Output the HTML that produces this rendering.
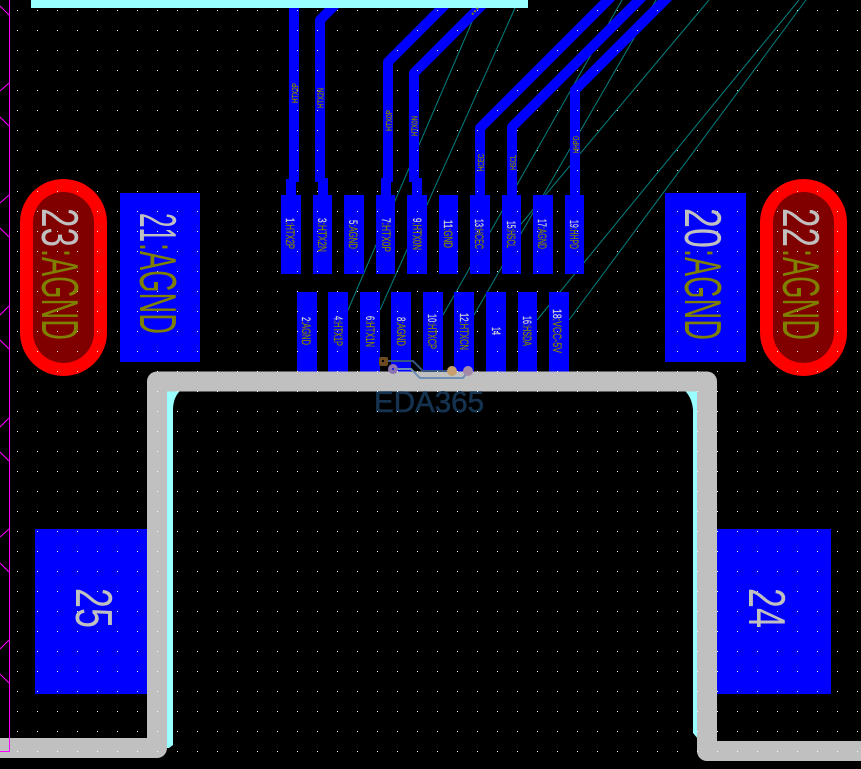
<!DOCTYPE html>
<html>
<head>
<meta charset="utf-8">
<style>
html,body{margin:0;padding:0;background:#000;width:861px;height:769px;overflow:hidden}
svg{display:block}
text{font-family:"Liberation Sans",sans-serif}
.p{font-size:12px;fill:#808000;stroke:#808000;stroke-width:.3}
.n{fill:#d0d0d0;stroke:#d0d0d0}
.t{font-size:8px;fill:#808000;stroke:#808000;stroke-width:.3}
.b{font-size:52px;fill:#808000}
.g{font-size:52px;fill:#c0c0c0}
</style>
</head>
<body>
<svg width="861" height="769" viewBox="0 0 861 769" xmlns="http://www.w3.org/2000/svg">
<rect width="861" height="769" fill="#000"/>

<!-- ratlines -->
<g stroke="#008080" stroke-width="1" fill="none">
<path d="M348 310L478 8"/>
<path d="M380 310L515 8"/>
<path d="M443 315L622 0"/>
<path d="M474 315L656 0"/>
<path d="M511 236L709 0"/>
<path d="M537 320L799 0"/>
<path d="M569 320L806 0"/>
</g>

<!-- tracks -->
<g stroke="#0000ff" stroke-width="10" fill="none" stroke-linejoin="round">
<path d="M294 0V182"/>
<path d="M345 -5L320 20V182"/>
<path d="M460 -10L388 62V182"/>
<path d="M497 -10L414 73V182"/>
<path d="M623 -15L480 128V195"/>
<path d="M654 -15L512 127V195"/>
<path d="M680 -15L575 90V195"/>
</g>

<!-- pads -->
<g fill="#0000ff" shape-rendering="crispEdges">
<rect x="286" y="179" width="10" height="17"/>
<rect x="318" y="178" width="10" height="18"/>
<rect x="381" y="178" width="10" height="18"/>
<rect x="412" y="178" width="10" height="18"/>
<rect x="281" y="195" width="20" height="79"/>
<rect x="313" y="195" width="19" height="79"/>
<rect x="344" y="195" width="20" height="79"/>
<rect x="376" y="195" width="19" height="79"/>
<rect x="407" y="195" width="20" height="79"/>
<rect x="439" y="195" width="19" height="79"/>
<rect x="470" y="195" width="20" height="79"/>
<rect x="502" y="195" width="19" height="79"/>
<rect x="533" y="195" width="20" height="79"/>
<rect x="565" y="195" width="19" height="79"/>
<rect x="297" y="292" width="20" height="82"/>
<rect x="328" y="292" width="20" height="82"/>
<rect x="360" y="292" width="20" height="82"/>
<rect x="391" y="292" width="20" height="82"/>
<rect x="423" y="292" width="20" height="82"/>
<rect x="454" y="292" width="20" height="82"/>
<rect x="486" y="292" width="20" height="82"/>
<rect x="518" y="292" width="19" height="82"/>
<rect x="549" y="292" width="20" height="82"/>
<rect x="120" y="193" width="80" height="169"/>
<rect x="665" y="193" width="81" height="169"/>
<rect x="35" y="529" width="115" height="165"/>
<rect x="715" y="529" width="116" height="165"/>
</g>

<!-- ovals -->
<rect x="20" y="179" width="87" height="197" rx="43.5" ry="43.5" fill="#ff0000"/>
<rect x="33" y="192" width="61" height="171" rx="30.5" ry="30.5" fill="#800000"/>
<rect x="760" y="179" width="87" height="197" rx="43.5" ry="43.5" fill="#ff0000"/>
<rect x="773" y="192" width="61" height="171" rx="30.5" ry="30.5" fill="#800000"/>

<!-- cyan -->
<rect x="31" y="0" width="497" height="8" fill="#99ffff"/>
<path d="M167 390H181Q173 397 173 410V745L169 748H167Z" fill="#99ffff"/>
<path d="M698 390H684Q692 397 693 410V733L698 739Z" fill="#99ffff"/>

<!-- board outline -->
<path d="M0 748H157V381.5H707V751H861" fill="none" stroke="#c0c0c0" stroke-width="20" stroke-linejoin="round"/>

<!-- logo watermark -->
<g fill="none" stroke-width="2">
<path d="M383 361H413L423 371H452" stroke="#33557f"/>
<path d="M393 369H411L420 378H463L468 371" stroke="#6f90b5"/>
</g>
<rect x="379" y="357" width="9" height="9" rx="2" fill="#6b4a20"/>
<circle cx="393" cy="369" r="5" fill="#8a72b0"/>
<circle cx="452" cy="371" r="5" fill="#c8a070"/>
<circle cx="468" cy="371" r="5" fill="#a58aa8"/>
<rect x="382" y="360" width="2" height="2" fill="#000"/>
<rect x="392" y="368" width="2" height="2" fill="#2020e0"/>
<text x="374" y="412" font-size="30" fill="#15324f" stroke="#15324f" stroke-width=".6" textLength="110" lengthAdjust="spacingAndGlyphs">EDA365</text>

<!-- grid -->
<path stroke="#fff" stroke-width="1" stroke-dasharray="1 19" stroke-dashoffset="3" fill="none" shape-rendering="crispEdges"
d="M0 10.5H861M0 30.5H861M0 50.5H861M0 70.5H861M0 90.5H861M0 110.5H861M0 130.5H861M0 150.5H861M0 170.5H861M0 191.5H861M0 211.5H861M0 231.5H861M0 251.5H861M0 271.5H861M0 291.5H861M0 311.5H861M0 331.5H861M0 351.5H861M0 371.5H861M0 391.5H861M0 411.5H861M0 431.5H861M0 451.5H861M0 471.5H861M0 491.5H861M0 511.5H861M0 531.5H861M0 551.5H861M0 571.5H861M0 591.5H861M0 611.5H861M0 631.5H861M0 651.5H861M0 671.5H861M0 691.5H861M0 711.5H861M0 731.5H861M0 751.5H861"/>

<!-- magenta -->
<g stroke="#ff00ff" stroke-width="1" fill="none">
<path d="M9.5 0V751.5H0"/>
<path d="M0 6L9 15M0 91L9 83M0 117L9 126M0 203L9 195M0 228L9 237M0 315L9 306M0 340L9 349M0 427L9 418M0 452L9 461M0 537L9 529M0 563L9 572M0 649L9 640M0 674L9 683"/>
</g>

<!-- big labels -->
<text class="g" transform="translate(42,208) rotate(90)" textLength="39" lengthAdjust="spacingAndGlyphs">23</text>
<text class="b" transform="translate(42,249) rotate(90)" textLength="91" lengthAdjust="spacingAndGlyphs">:AGND</text>
<text class="g" transform="translate(140,213) rotate(90)" textLength="29" lengthAdjust="spacingAndGlyphs">21</text>
<text class="b" transform="translate(140,243) rotate(90)" textLength="91" lengthAdjust="spacingAndGlyphs">:AGND</text>
<text class="g" transform="translate(685,208) rotate(90)" textLength="40" lengthAdjust="spacingAndGlyphs">20</text>
<text class="b" transform="translate(685,249) rotate(90)" textLength="91" lengthAdjust="spacingAndGlyphs">:AGND</text>
<text class="g" transform="translate(783,208) rotate(90)" textLength="39" lengthAdjust="spacingAndGlyphs">22</text>
<text class="b" transform="translate(783,249) rotate(90)" textLength="91" lengthAdjust="spacingAndGlyphs">:AGND</text>
<text class="g" transform="translate(76,588) rotate(90)" textLength="40" lengthAdjust="spacingAndGlyphs">25</text>
<text class="g" transform="translate(749,588) rotate(90)" textLength="40" lengthAdjust="spacingAndGlyphs">24</text>

<!-- pad labels -->
<text class="p" transform="translate(286,218) rotate(90)" textLength="31" lengthAdjust="spacingAndGlyphs"><tspan class="n">1</tspan>:HTX2P</text>
<text class="p" transform="translate(318,218) rotate(90)" textLength="34" lengthAdjust="spacingAndGlyphs"><tspan class="n">3</tspan>:HTX2N</text>
<text class="p" transform="translate(349,220) rotate(90)" textLength="29" lengthAdjust="spacingAndGlyphs"><tspan class="n">5</tspan>:AGND</text>
<text class="p" transform="translate(382,218) rotate(90)" textLength="34" lengthAdjust="spacingAndGlyphs"><tspan class="n">7</tspan>:HTX0P</text>
<text class="p" transform="translate(413,218) rotate(90)" textLength="32" lengthAdjust="spacingAndGlyphs"><tspan class="n">9</tspan>:HTX0N</text>
<text class="p" transform="translate(444,220) rotate(90)" textLength="28" lengthAdjust="spacingAndGlyphs"><tspan class="n">11</tspan>:GND</text>
<text class="p" transform="translate(475,219) rotate(90)" textLength="30" lengthAdjust="spacingAndGlyphs"><tspan class="n">13</tspan>:HCEC</text>
<text class="p" transform="translate(507,221) rotate(90)" textLength="27" lengthAdjust="spacingAndGlyphs"><tspan class="n">15</tspan>:HSCL</text>
<text class="p" transform="translate(538,219) rotate(90)" textLength="30" lengthAdjust="spacingAndGlyphs"><tspan class="n">17</tspan>:AGND</text>
<text class="p" transform="translate(570,220) rotate(90)" textLength="29" lengthAdjust="spacingAndGlyphs"><tspan class="n">19</tspan>:HHPD</text>

<text class="p" transform="translate(302,317) rotate(90)" textLength="28" lengthAdjust="spacingAndGlyphs"><tspan class="n">2</tspan>:AGND</text>
<text class="p" transform="translate(334,316) rotate(90)" textLength="30" lengthAdjust="spacingAndGlyphs"><tspan class="n">4</tspan>:HTX1P</text>
<text class="p" transform="translate(366,316) rotate(90)" textLength="31" lengthAdjust="spacingAndGlyphs"><tspan class="n">6</tspan>:HTX1N</text>
<text class="p" transform="translate(397,317) rotate(90)" textLength="29" lengthAdjust="spacingAndGlyphs"><tspan class="n">8</tspan>:AGND</text>
<text class="p" transform="translate(428,314) rotate(90)" textLength="35" lengthAdjust="spacingAndGlyphs"><tspan class="n">10</tspan>:HTXCP</text>
<text class="p" transform="translate(460,313) rotate(90)" textLength="37" lengthAdjust="spacingAndGlyphs"><tspan class="n">12</tspan>:HTXCN</text>
<text class="p n" transform="translate(492,327) rotate(90)" textLength="8" lengthAdjust="spacingAndGlyphs">14</text>
<text class="p" transform="translate(523,316) rotate(90)" textLength="30" lengthAdjust="spacingAndGlyphs"><tspan class="n">16</tspan>:HSDA</text>
<text class="p" transform="translate(553,309) rotate(90)" textLength="44" lengthAdjust="spacingAndGlyphs"><tspan class="n">18</tspan>:VCC-5V</text>

<!-- track labels -->
<text class="t" transform="translate(298,103) rotate(-90)" textLength="20" lengthAdjust="spacingAndGlyphs">HTX2P</text>
<text class="t" transform="translate(323.5,108) rotate(-90)" textLength="20" lengthAdjust="spacingAndGlyphs">HTX2N</text>
<text class="t" transform="translate(392,131) rotate(-90)" textLength="21" lengthAdjust="spacingAndGlyphs">HTX0P</text>
<text class="t" transform="translate(417.5,136) rotate(-90)" textLength="20" lengthAdjust="spacingAndGlyphs">HTX0N</text>
<text class="t" transform="translate(484,171) rotate(-90)" textLength="17" lengthAdjust="spacingAndGlyphs">HCEC</text>
<text class="t" transform="translate(516,170) rotate(-90)" textLength="15" lengthAdjust="spacingAndGlyphs">HSCL</text>
<text class="t" transform="translate(579,153) rotate(-90)" textLength="17" lengthAdjust="spacingAndGlyphs">HHPD</text>
<path d="M472 14.500L478 8" stroke="#808000" stroke-width="2" stroke-dasharray="2 1.500" fill="none"/>
</svg>
</body>
</html>
